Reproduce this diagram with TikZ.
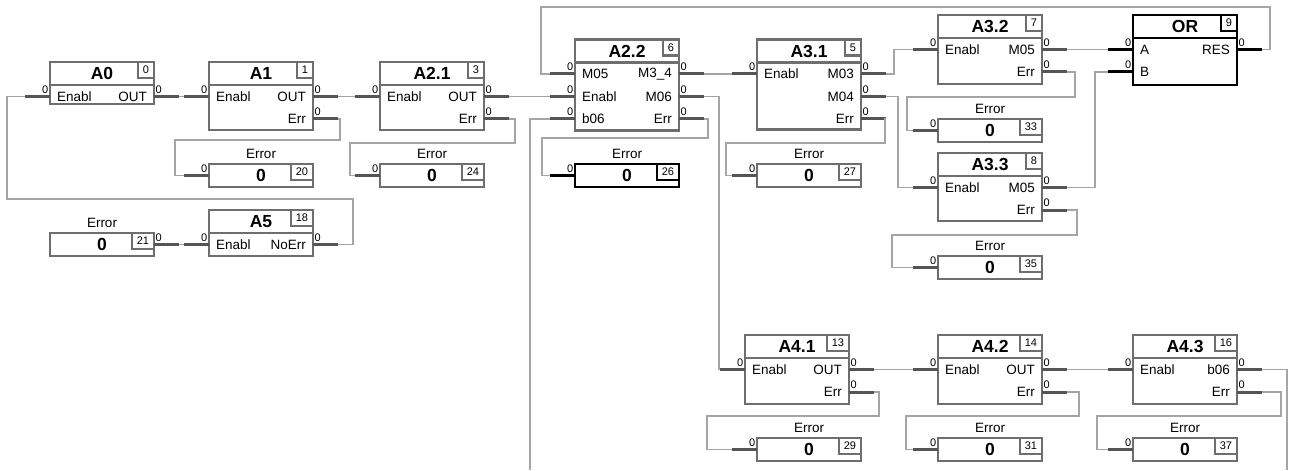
\documentclass[tikz,border=0pt]{standalone}
\usepackage{fontspec}
\setmainfont{Liberation Sans}
\usetikzlibrary{positioning}
\definecolor{blkgray}{RGB}{110,110,110}
\definecolor{stubgray}{RGB}{85,85,85}
\definecolor{wiregray}{RGB}{165,165,165}
\tikzset{
  frame/.style={draw=#1,line width=2.9pt,outer sep=0pt,inner sep=0pt},
  frame/.default=blkgray,
  stub/.style={draw=#1,line width=3pt},
  stub/.default=stubgray,
  wire/.style={draw=wiregray,line width=1.2pt},
  numbox/.style={draw=#1,line width=2.2pt,outer sep=0pt,inner xsep=5pt,inner ysep=0pt,
    minimum height=16pt,minimum width=15pt,font=\fontsize{11}{11}\selectfont},
  numbox/.default=blkgray,
  blktitle/.style={font=\fontsize{17.5}{18}\selectfont\bfseries,inner sep=0pt},
  portlbl/.style={font=\fontsize{13.5}{14}\selectfont,inner sep=0pt},
  pinlbl/.style={font=\fontsize{11}{11}\selectfont,inner sep=0pt},
  valtext/.style={font=\fontsize{17.5}{18}\selectfont\bfseries,inner sep=0pt},
}
% function block: [colour]{name}{x}{top}{height}{title}{number}
\newcommand{\fblock}[7][blkgray]{%
  \node[frame=#1,anchor=north west,minimum width=104pt,minimum height=#5pt] (#2) at (#3,#4) {};
  \draw[frame=#1] ([yshift=-23pt]#2.north west) -- ([yshift=-23pt]#2.north east);
  \node[blktitle] (#2-h) at ([yshift=-11.5pt]#2.north) {#6};
  \node[numbox=#1,anchor=north east] (#2-n) at (#2.north east) {#7};
  \foreach \r in {1,2,3}{
    \pgfmathsetmacro{\py}{34.5+22.5*(\r-1)}
    \coordinate (#2-L\r) at ([yshift=-\py pt]#2.north west);
    \coordinate (#2-R\r) at ([yshift=-\py pt]#2.north east);
  }
}
% error output: [colour]{name}{x}{top}{number}
\newcommand{\errbox}[5][blkgray]{%
  \node[frame=#1,anchor=north west,minimum width=104pt,minimum height=23pt] (#2) at (#3,#4) {};
  \node[valtext] (#2-v) at (#2.center) {0};
  \node[numbox=#1,anchor=north east] (#2-n) at (#2.north east) {#5};
  \node[portlbl] (#2-h) at ([yshift=10.5pt]#2.north) {Error};
  \coordinate (#2-L1) at (#2.west);
  \coordinate (#2-R1) at (#2.east);
}
\newcommand{\inport}[3][stubgray]{%
  \draw[stub=#1] (#2) -- ++(-25,0) coordinate (#2x);
  \node[pinlbl,anchor=south east] (#2-p) at ([xshift=-1.5pt,yshift=3pt]#2) {0};
  \node[portlbl,anchor=west] (#2-t) at ([xshift=7pt]#2) {#3};
}
\newcommand{\outport}[3][stubgray]{%
  \draw[stub=#1] (#2) -- ++(25,0) coordinate (#2x);
  \node[pinlbl,anchor=south west] (#2-p) at ([xshift=1.5pt,yshift=3pt]#2) {0};
  \node[portlbl,anchor=east] (#2-t) at ([xshift=-7pt]#2) {#3};
}

\begin{document}
\begin{tikzpicture}[x=1pt,y=-1pt]
  \fill[white] (0,0) rectangle (1295,470);
  \fblock{A0}{50}{62}{42}{A0}{0}
  \fblock{A1}{209}{62}{68}{A1}{1}
  \fblock{A21}{380}{62}{68}{A2.1}{3}
  \fblock{A22}{575}{39.5}{91}{A2.2}{6}
  \fblock{A31}{757}{39.5}{90}{A3.1}{5}
  \fblock{A32}{938}{15}{69}{A3.2}{7}
  \fblock{A33}{938}{153}{68}{A3.3}{8}
  \fblock[black]{OR}{1133}{15}{70}{OR}{9}
  \fblock{A41}{745}{335}{69}{A4.1}{13}
  \fblock{A42}{938}{335}{69}{A4.2}{14}
  \fblock{A43}{1133}{335}{69}{A4.3}{16}
  \fblock{A5}{209}{210}{46}{A5}{18}

  \errbox{E20}{209}{164}{20}
  \errbox{E24}{380}{164}{24}
  \errbox[black]{E26}{575}{164}{26}
  \errbox{E27}{757}{164}{27}
  \errbox{E33}{938}{119}{33}
  \errbox{E35}{938}{256}{35}
  \errbox{E21}{50}{233}{21}
  \errbox{E29}{757}{438}{29}
  \errbox{E31}{938}{438}{31}
  \errbox{E37}{1133}{438}{37}

  \foreach \p/\t in {A0-L1/Enabl,A1-L1/Enabl,A21-L1/Enabl,A22-L1/M05,A22-L2/Enabl,A22-L3/b06,
    A31-L1/Enabl,A32-L1/Enabl,A33-L1/Enabl,A41-L1/Enabl,A42-L1/Enabl,A43-L1/Enabl,A5-L1/Enabl,
    E20-L1/,E24-L1/,E27-L1/,E33-L1/,E35-L1/,E29-L1/,E31-L1/,E37-L1/}
    \inport{\p}{\t};
  \foreach \p/\t in {A0-R1/OUT,A1-R1/OUT,A1-R2/Err,A21-R1/OUT,A21-R2/Err,A22-R1/M3\_4,A22-R2/M06,
    A22-R3/Err,A31-R1/M03,A31-R2/M04,A31-R3/Err,A32-R1/M05,A32-R2/Err,A33-R1/M05,A33-R2/Err,
    A41-R1/OUT,A41-R2/Err,A42-R1/OUT,A42-R2/Err,A43-R1/b06,A43-R2/Err,A5-R1/NoErr,E21-R1/}
    \outport{\p}{\t};
  \inport[black]{OR-L1}{A}
  \inport[black]{OR-L2}{B}
  \outport[black]{OR-R1}{RES}
  \inport[black]{E26-L1}{}

  % connections
  \foreach \a/\b in {A0-R1x/A1-L1x,A1-R1x/A21-L1x,A21-R1x/A22-L2x,A22-R1x/A31-L1x,
    A32-R1x/OR-L1x,A41-R1x/A42-L1x,A42-R1x/A43-L1x,E21-R1x/A5-L1x}
    \draw[wire] (\a) -- (\b);
  \foreach \a/\vx/\hy/\lx/\b in {A1-R2x/340/140/175/E20-L1x,A21-R2x/515/143/350/E24-L1x,
    A22-R3x/708/138/542/E26-L1x,A31-R3x/885/143/726/E27-L1x,A32-R2x/1075/97/907/E33-L1x,
    A33-R2x/1077/235/892/E35-L1x,A41-R2x/879/416/707/E29-L1x,A42-R2x/1079/416/906/E31-L1x,
    A43-R2x/1281/416/1097/E37-L1x}
    \draw[wire] (\a) -| (\vx,\hy) -- (\lx,\hy) |- (\b);
  \draw[wire] (A22-R2x) -- ++(15,0) |- (A41-L1x);
  \draw[wire] (A31-R1x) -- ++(8,0) |- (A32-L1x);
  \draw[wire] (A31-R2x) -- ++(12,0) |- (A33-L1x);
  \draw[wire] (A33-R1x) -- ++(28,0) |- (OR-L2x);
  \draw[wire] (OR-R1x) -- ++(8,0) |- (541,7) |- (A22-L1x);
  \draw[wire] (A5-R1x) -- ++(15,0) |- (7,199) |- (A0-L1x);
  \coordinate (b06a) at (530,470);
  \coordinate (b06b) at (1287,470);
  \draw[wire] (A22-L3x) -| (b06a);
  \draw[wire] (A43-R1x) -| (b06b);
\end{tikzpicture}
\end{document}
